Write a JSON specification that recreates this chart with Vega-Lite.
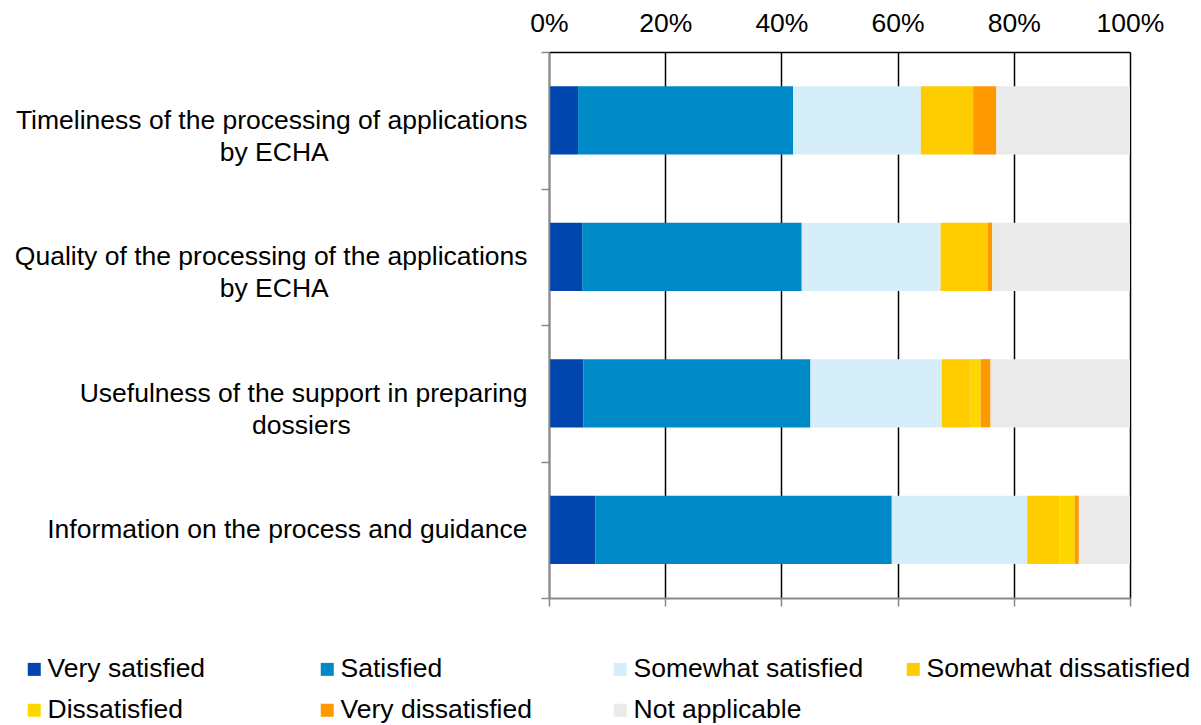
{
  "$schema": "https://vega.github.io/schema/vega-lite/v6.json",
  "width": 581,
  "height": 546,
  "autosize": {"type": "none"},
  "padding": {"left": 549, "top": 52, "right": 71, "bottom": 127},
  "config": {"font": "Liberation Sans", "view": {"stroke": null}},
  "data": {
    "values": [
      {"q": "Timeliness of the processing of applications\nby ECHA", "cat": "Very satisfied", "rank": 1, "v": 5},
      {"q": "Timeliness of the processing of applications\nby ECHA", "cat": "Satisfied", "rank": 2, "v": 37},
      {"q": "Timeliness of the processing of applications\nby ECHA", "cat": "Somewhat satisfied", "rank": 3, "v": 22},
      {"q": "Timeliness of the processing of applications\nby ECHA", "cat": "Somewhat dissatisfied", "rank": 4, "v": 9},
      {"q": "Timeliness of the processing of applications\nby ECHA", "cat": "Dissatisfied", "rank": 5, "v": 0},
      {"q": "Timeliness of the processing of applications\nby ECHA", "cat": "Very dissatisfied", "rank": 6, "v": 4},
      {"q": "Timeliness of the processing of applications\nby ECHA", "cat": "Not applicable", "rank": 7, "v": 23},
      {"q": "Quality of the processing of the applications\nby ECHA", "cat": "Very satisfied", "rank": 1, "v": 5.7},
      {"q": "Quality of the processing of the applications\nby ECHA", "cat": "Satisfied", "rank": 2, "v": 37.8},
      {"q": "Quality of the processing of the applications\nby ECHA", "cat": "Somewhat satisfied", "rank": 3, "v": 23.9},
      {"q": "Quality of the processing of the applications\nby ECHA", "cat": "Somewhat dissatisfied", "rank": 4, "v": 8.1},
      {"q": "Quality of the processing of the applications\nby ECHA", "cat": "Dissatisfied", "rank": 5, "v": 0},
      {"q": "Quality of the processing of the applications\nby ECHA", "cat": "Very dissatisfied", "rank": 6, "v": 0.8},
      {"q": "Quality of the processing of the applications\nby ECHA", "cat": "Not applicable", "rank": 7, "v": 23.7},
      {"q": "Usefulness of the support in preparing\ndossiers", "cat": "Very satisfied", "rank": 1, "v": 5.9},
      {"q": "Usefulness of the support in preparing\ndossiers", "cat": "Satisfied", "rank": 2, "v": 39.1},
      {"q": "Usefulness of the support in preparing\ndossiers", "cat": "Somewhat satisfied", "rank": 3, "v": 22.6},
      {"q": "Usefulness of the support in preparing\ndossiers", "cat": "Somewhat dissatisfied", "rank": 4, "v": 5.0},
      {"q": "Usefulness of the support in preparing\ndossiers", "cat": "Dissatisfied", "rank": 5, "v": 1.7},
      {"q": "Usefulness of the support in preparing\ndossiers", "cat": "Very dissatisfied", "rank": 6, "v": 1.7},
      {"q": "Usefulness of the support in preparing\ndossiers", "cat": "Not applicable", "rank": 7, "v": 24.0},
      {"q": "Information on the process and guidance", "cat": "Very satisfied", "rank": 1, "v": 8.0},
      {"q": "Information on the process and guidance", "cat": "Satisfied", "rank": 2, "v": 51.0},
      {"q": "Information on the process and guidance", "cat": "Somewhat satisfied", "rank": 3, "v": 23.3},
      {"q": "Information on the process and guidance", "cat": "Somewhat dissatisfied", "rank": 4, "v": 5.6},
      {"q": "Information on the process and guidance", "cat": "Dissatisfied", "rank": 5, "v": 2.6},
      {"q": "Information on the process and guidance", "cat": "Very dissatisfied", "rank": 6, "v": 0.7},
      {"q": "Information on the process and guidance", "cat": "Not applicable", "rank": 7, "v": 8.8}
    ]
  },
  "resolve": {"axis": {"x": "independent"}},
  "layer": [
    {
      "mark": {"type": "bar", "height": {"band": 0.5}},
      "encoding": {
        "y": {
          "field": "q",
          "type": "nominal",
          "sort": null,
          "scale": {"paddingInner": 0, "paddingOuter": 0},
          "axis": {
            "title": null,
            "domainColor": "#898989",
            "domainWidth": 1.5,
            "tickColor": "#898989",
            "tickWidth": 1.5,
            "tickSize": 8,
            "tickBand": "extent",
            "labelAlign": "right",
            "labelBaseline": "middle",
            "labelFontSize": 26.5,
            "labelColor": "#000000",
            "labelLineHeight": 32,
            "labelLimit": 1000,
            "labelPadding": 14,
            "labelExpr": "split(replace(replace(datum.label, 'by ECHA', 'by ECHA\u00a0\u00a0\u00a0\u00a0\u00a0\u00a0\u00a0\u00a0\u00a0\u00a0\u00a0\u00a0\u00a0\u00a0\u00a0\u00a0\u00a0\u00a0\u00a0\u00a0\u00a0\u00a0\u00a0\u00a0\u00a0\u00a0\u00a0\u200b'), 'dossiers', 'dossiers\u00a0\u00a0\u00a0\u00a0\u00a0\u00a0\u00a0\u00a0\u00a0\u00a0\u00a0\u00a0\u00a0\u00a0\u00a0\u00a0\u00a0\u00a0\u00a0\u00a0\u00a0\u00a0\u00a0\u00a0\u200b'), '\\n')",
            "zindex": 1
          }
        },
        "x": {
          "field": "v",
          "type": "quantitative",
          "stack": "normalize",
          "scale": {"domain": [0, 1]},
          "axis": {
            "orient": "top",
            "title": null,
            "format": ".0%",
            "values": [0, 0.2, 0.4, 0.6, 0.8, 1],
            "ticks": false,
            "tickSize": 0,
            "labelPadding": 21,
            "labelBaseline": "alphabetic",
            "labelFontSize": 26.5,
            "labelColor": "#000000",
            "labelFlush": false,
            "domainColor": "#000000",
            "domainWidth": 1.5,
            "grid": true,
            "gridColor": "#000000",
            "gridWidth": 1.5,
            "gridOpacity": 1
          }
        },
        "order": {"field": "rank", "type": "quantitative", "sort": "ascending"},
        "color": {
          "field": "cat",
          "type": "nominal",
          "scale": {
            "domain": ["Very satisfied", "Satisfied", "Somewhat satisfied", "Somewhat dissatisfied", "Dissatisfied", "Very dissatisfied", "Not applicable"],
            "range": ["#0046AD", "#0089C7", "#D6EEF9", "#FFCC00", "#FFD700", "#FF9900", "#EAEAEA"]
          },
          "legend": {
            "title": null,
            "orient": "none",
            "legendX": -528,
            "legendY": 604,
            "direction": "horizontal",
            "columns": 4,
            "gridAlign": "all",
            "columnPadding": 2,
            "rowPadding": 14,
            "symbolType": "square",
            "symbolSize": 169,
            "symbolStrokeWidth": 0,
            "labelFontSize": 26.5,
            "labelColor": "#000000",
            "labelLimit": 500,
            "labelOffset": 0
          }
        }
      }
    },
    {
      "mark": {"type": "rule", "opacity": 0},
      "encoding": {
        "x": {
          "datum": 0,
          "type": "quantitative",
          "axis": {
            "orient": "bottom",
            "title": null,
            "labels": false,
            "grid": false,
            "values": [0, 0.2, 0.4, 0.6, 0.8, 1],
            "domainColor": "#898989",
            "domainWidth": 2,
            "tickColor": "#898989",
            "tickWidth": 1.5,
            "tickSize": 8
          }
        }
      }
    }
  ]
}
